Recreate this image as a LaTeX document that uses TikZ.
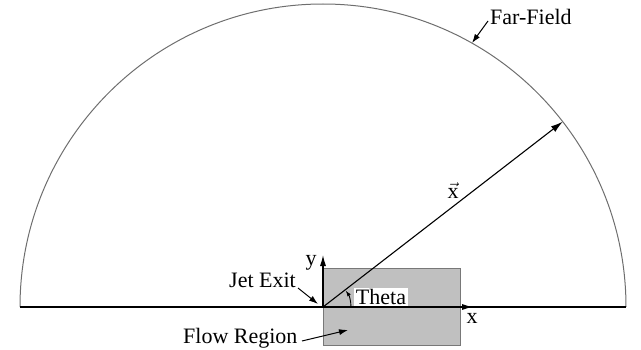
\documentclass[tikz,border=0pt]{standalone}
\usepackage{fontspec}
\usepackage{amsmath}
\setmainfont{Liberation Serif}
\usetikzlibrary{arrows.meta,calc}
\begin{document}
\begin{tikzpicture}[x=1pt,y=1pt,
  lbl/.style={font=\fontsize{22}{26}\selectfont, inner sep=0pt},
  ptr/.style={-{Latex[length=9pt,width=6pt]}, line width=1pt},
  axisarrow/.style={-{Latex[length=11pt,width=6pt]}, line width=1.1pt}]
\useasboundingbox (0,0) rectangle (641,349);
\coordinate (O) at (323,42);
% flow region box
\node[draw={rgb,255:red,120;green,120;blue,120}, fill={rgb,255:red,192;green,192;blue,192}, line width=0.9pt,
  minimum width=137pt, minimum height=77pt, inner sep=0pt, anchor=south west] (box) at (323,3) {};
% far field arc
\draw[color={rgb,255:red,110;green,110;blue,110}, line width=1pt] (20,42) arc[start angle=180, end angle=0, radius=303];
% base line
\coordinate (L) at (20,42);
\coordinate (R) at (626,42);
\draw[line width=1.3pt] (L) -- (R);
% axes
\coordinate (Xt) at (473,42);
\coordinate (Yt) at (323,94);
\draw[axisarrow] (O) -- (Xt);
\draw[axisarrow] (O) -- (Yt);
\node[lbl] (xl) at (472,31) {x};
\node[lbl] (yl) at (311,86) {y};
% position vector
\coordinate (P) at ($(O)+(37.7:303)$);
\draw[-{Latex[length=12pt,width=7pt]}, line width=1.1pt] (O) -- (P);
\node[lbl] (xv) at (453,158) {$\vec{\text{x}}$};
% theta
\node[lbl, fill=white, inner xsep=2pt, inner ysep=1pt] (th) at (381,52) {Theta};
\draw[-{Latex[length=6pt,width=4pt]}, line width=0.9pt] ($(O)+(0:28)$) arc[start angle=0, end angle=36, radius=28];
% labels with pointers
\node[lbl, anchor=base west] (ff) at (490,324) {Far-Field};
\coordinate (ffa) at (488,328);
\coordinate (ffb) at (472,306);
\draw[ptr] (ffa) -- (ffb);
\node[lbl, anchor=base west] (je) at (229,62) {Jet Exit};
\coordinate (jea) at (298,61);
\coordinate (jeb) at (318,45);
\draw[ptr] (jea) -- (jeb);
\node[lbl, anchor=base west] (fr) at (183,6) {Flow Region};
\coordinate (fra) at (302,8);
\coordinate (frb) at (348,19);
\draw[ptr] (fra) -- (frb);
\end{tikzpicture}
\end{document}
